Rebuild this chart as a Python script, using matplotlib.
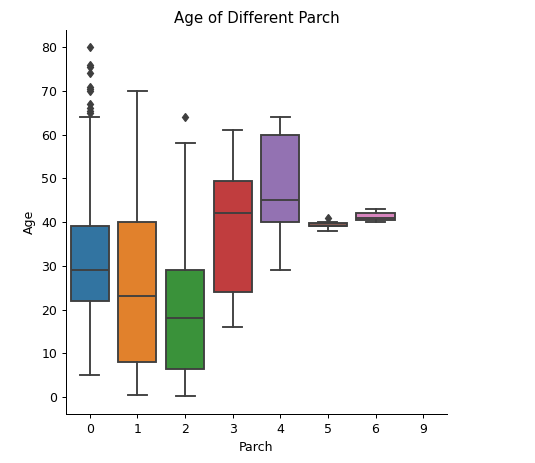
import matplotlib
matplotlib.use("Agg")
import matplotlib.pyplot as plt
import matplotlib.colors as mcolors
import colorsys

categories = ["0", "1", "2", "3", "4", "5", "6", "9"]
whislo = [5, 0.42, 0.17, 16, 29, 38, 40, None]
q1 = [22, 8, 6.3, 24, 40, 39, 40.5, None]
median = [29, 23, 18, 42, 45, 39, 41, None]
q3 = [39, 40, 29, 49.5, 60, 39.8, 42, None]
whishi = [64, 70, 58, 61, 64, 40, 43, None]
fliers = [[65, 65.5, 66, 67, 70, 70.5, 71, 74, 75.5, 76, 80], [], [64], [], [], [41], [], []]
palette = ["#1f77b4", "#ff7f0e", "#2ca02c", "#d62728", "#9467bd", "#8c564b", "#e377c2", "#7f7f7f"]


def desat(c, p=0.75):
    r, g, b = mcolors.to_rgb(c)
    h, l, s = colorsys.rgb_to_hls(r, g, b)
    return colorsys.hls_to_rgb(h, l, s * p)


DPI = 90
fig = plt.figure(figsize=(535 / DPI, 463 / DPI), dpi=DPI)
ax = fig.add_axes([0.1234, 0.1058, 0.712, 0.829])

gray = "#3f3f3f"
stats = []
positions = []
colors = []
for i, cat in enumerate(categories):
    if median[i] is None:
        continue
    stats.append(dict(med=median[i], q1=q1[i], q3=q3[i], whislo=whislo[i],
                      whishi=whishi[i], fliers=fliers[i], label=cat))
    positions.append(i)
    colors.append(desat(palette[i]))

bp = ax.bxp(stats, positions=positions, widths=0.8, patch_artist=True,
            manage_ticks=False,
            boxprops=dict(edgecolor=gray, linewidth=1.5),
            whiskerprops=dict(color=gray, linewidth=1.5),
            capprops=dict(color=gray, linewidth=1.5),
            medianprops=dict(color=gray, linewidth=1.5),
            flierprops=dict(marker="d", markerfacecolor=gray, markeredgecolor=gray,
                            markersize=5, linestyle="none"))
for patch, c in zip(bp["boxes"], colors):
    patch.set_facecolor(c)

ax.set_xticks(range(len(categories)))
ax.set_xticklabels(categories)
ax.set_xlim(-0.5, len(categories) - 0.5)
ax.set_ylim(-3.9, 83.9)
ax.set_xlabel("Parch")
ax.set_ylabel("Age")
ax.set_title("Age of Different Parch")
ax.spines["top"].set_visible(False)
ax.spines["right"].set_visible(False)

fig.savefig("out.png", dpi=DPI)
